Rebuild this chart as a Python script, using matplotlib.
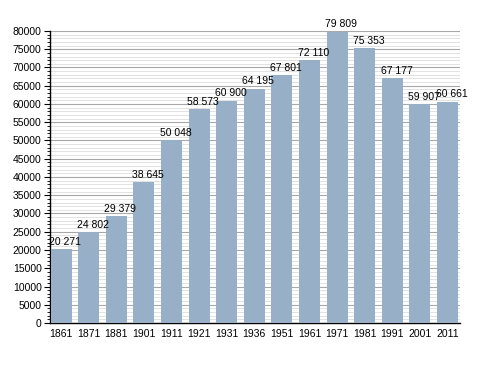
import matplotlib
matplotlib.use('Agg')
import matplotlib.pyplot as plt
from matplotlib.ticker import MultipleLocator

# Données : population par année de recensement
annees = ['1861', '1871', '1881', '1901', '1911', '1921', '1931', '1936',
          '1951', '1961', '1971', '1981', '1991', '2001', '2011']
population = [20271, 24802, 29379, 38645, 50048, 58573, 60900, 64195,
              67801, 72110, 79809, 75353, 67177, 59907, 60661]

plt.rcParams['font.family'] = ['Liberation Sans', 'DejaVu Sans']

fig = plt.figure(figsize=(4.88, 3.73), dpi=100)
ax = fig.add_axes([0.1025, 0.134, 0.84, 0.783])

x = range(len(annees))
ax.bar(x, population, width=0.76, color='#98afc8', zorder=3)

# étiquettes au-dessus des barres
for i, v in enumerate(population):
    txt = f'{v:,}'.replace(',', ' ')
    ax.text(i + 0.15, v + 600, txt, ha='center', va='bottom', fontsize=7.5, zorder=4)

ax.set_xlim(-0.4, 14.45)
ax.set_ylim(0, 80000)
ax.set_xticks(list(x))
ax.set_xticklabels(annees, fontsize=7.5)
ax.tick_params(axis='x', length=0, pad=4)

ax.yaxis.set_major_locator(MultipleLocator(5000))
ax.yaxis.set_minor_locator(MultipleLocator(1000))
ax.tick_params(axis='y', which='major', labelsize=7.5, length=4, width=0.8, direction='out', pad=2)
ax.tick_params(axis='y', which='minor', length=2, width=0.6, direction='out')

ax.grid(axis='y', which='major', color='#a8a8a8', linewidth=0.8, zorder=0)
ax.grid(axis='y', which='minor', color='#e2e2e2', linewidth=0.7, zorder=0)

for s in ['top', 'right']:
    ax.spines[s].set_visible(False)
ax.spines['left'].set_linewidth(1.0)
ax.spines['bottom'].set_linewidth(1.0)

fig.savefig('out.png', dpi=100)
